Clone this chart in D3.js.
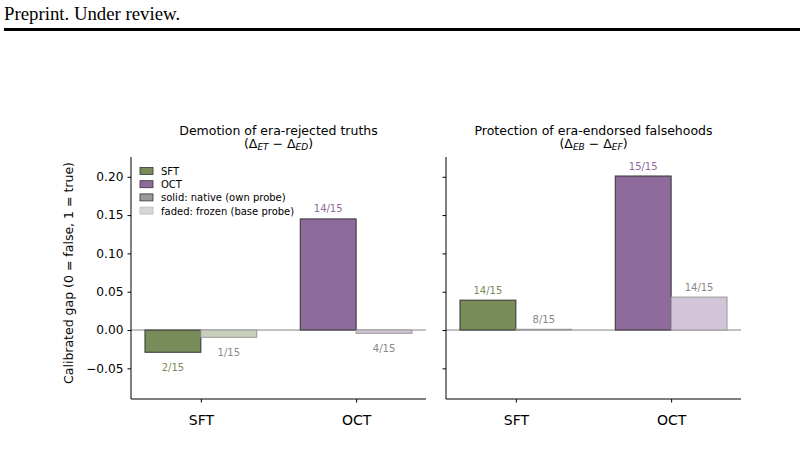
<!DOCTYPE html>
<html>
<head>
<meta charset="utf-8">
<script src="https://cdn.jsdelivr.net/npm/d3@7"></script>
<style>
  body { margin: 0; background: #fff; }
  svg { display: block; font-family: "DejaVu Sans", sans-serif; }
</style>
</head>
<body>
<svg width="804" height="460"></svg>
<script>
// chart data
const categories = ["SFT", "OCT"];
const panelTitles = ["Demotion of era-rejected truths", "Protection of era-endorsed falsehoods"];
const panelSubs = [["ET", "ED"], ["EB", "EF"]];
const nativeValues = [[-0.029, 0.145], [0.039, 0.201]];
const frozenValues = [[-0.0095, -0.0043], [0.001, 0.043]];
const nativeCounts = [["2/15", "14/15"], ["14/15", "15/15"]];
const frozenCounts = [["1/15", "4/15"], ["8/15", "14/15"]];
const yTicks = [-0.05, 0.0, 0.05, 0.10, 0.15, 0.20];
const legendLabels = ["SFT", "OCT", "solid: native (own probe)", "faded: frozen (base probe)"];

const solid = { SFT: "#788c5a", OCT: "#8f6b9b" };
const faded = { SFT: "#c9d1bd", OCT: "#d2c5da" };

const svg = d3.select("svg");

// page header like the paper
svg.append("text")
    .attr("x", 4).attr("y", 20)
    .style("font-family", "'Palatino Linotype', 'URW Palladio L', 'Liberation Serif', serif")
    .style("font-size", "18.8px")
    .text("Preprint. Under review.");
svg.append("rect")
    .attr("x", 4).attr("y", 28)
    .attr("width", 796).attr("height", 3)
    .attr("fill", "#000");

const y = d3.scaleLinear().domain([-0.09, 0.2258]).range([399, 157]);
const panelLeft = [131, 446];
const panelWidth = 295;
const barW = 0.36;

panelLeft.forEach((left, p) => {
    const x = d3.scaleLinear().domain([-0.45, 1.45]).range([left, left + panelWidth]);
    const g = svg.append("g");

    // zero line
    g.append("line")
        .attr("x1", left).attr("x2", left + panelWidth)
        .attr("y1", y(0)).attr("y2", y(0))
        .attr("stroke", "#888").attr("stroke-width", 1);

    categories.forEach((c, i) => {
        const bars = [
            { v: nativeValues[p][i], x0: i - barW, fill: solid[c], edge: "#333", lab: nativeCounts[p][i], lc: solid[c] },
            { v: frozenValues[p][i], x0: i, fill: faded[c], edge: "#999", lab: frozenCounts[p][i], lc: "#888" }
        ];
        bars.forEach(b => {
            const top = y(Math.max(0, b.v));
            const bot = y(Math.min(0, b.v));
            g.append("rect")
                .attr("x", x(b.x0)).attr("y", top)
                .attr("width", x(b.x0 + barW) - x(b.x0))
                .attr("height", Math.max(0.5, bot - top))
                .attr("fill", b.fill)
                .attr("stroke", b.edge).attr("stroke-width", 1);
            g.append("text")
                .attr("x", x(b.x0 + barW / 2))
                .attr("y", b.v >= 0 ? top - 6.5 : bot + 19)
                .attr("text-anchor", "middle")
                .attr("fill", b.lc)
                .style("font-size", "10px")
                .text(b.lab);
        });
    });

    // axes
    const yAxis = d3.axisLeft(y).tickValues(yTicks).tickSize(3.5).tickPadding(4)
        .tickFormat(p === 0 ? (d => d3.format(".2f")(d).replace("-", "\u2212")) : "");
    const ya = g.append("g").attr("transform", `translate(${left},0)`).call(yAxis);
    ya.select(".domain").attr("d", `M0,157V399`);

    const xAxis = d3.axisBottom(x).tickValues([0, 1]).tickFormat(d => categories[d])
        .tickSize(3.5).tickPadding(13);
    const xa = g.append("g").attr("transform", "translate(0,399)").call(xAxis);
    xa.select(".domain").attr("d", `M${left},0H${left + panelWidth}`);

    [ya, xa].forEach(a => {
        a.select(".domain").attr("stroke", "#000").attr("stroke-width", 1);
        a.selectAll(".tick line").attr("stroke", "#000");
        a.selectAll(".tick text").attr("fill", "#000")
            .style("font-family", "'DejaVu Sans', sans-serif");
    });
    ya.selectAll(".tick text").style("font-size", "12.2px");
    xa.selectAll(".tick text").style("font-size", "14px");

    // titles
    const cx = left + panelWidth / 2;
    g.append("text")
        .attr("x", cx).attr("y", 134.5)
        .attr("text-anchor", "middle")
        .style("font-size", "12.5px")
        .text(panelTitles[p]);
    const sub = g.append("text")
        .attr("x", cx).attr("y", 148)
        .attr("text-anchor", "middle")
        .style("font-size", "12.5px");
    sub.append("tspan").text("(\u0394");
    sub.append("tspan").attr("dy", 2).style("font-size", "9px").style("font-style", "italic").text(panelSubs[p][0]);
    sub.append("tspan").attr("dy", -2).text(" \u2212 \u0394");
    sub.append("tspan").attr("dy", 2).style("font-size", "9px").style("font-style", "italic").text(panelSubs[p][1]);
    sub.append("tspan").attr("dy", -2).text(")");
});

// y label
svg.append("text")
    .attr("transform", "translate(73,273) rotate(-90)")
    .attr("text-anchor", "middle")
    .style("font-size", "12.5px")
    .text("Calibrated gap (0 = false, 1 = true)");

// legend
const legendFill = [solid.SFT, solid.OCT, "#999", "#d6d6d6"];
const legendEdge = ["#333", "#333", "#333", "#bbb"];
const lg = svg.append("g").attr("transform", "translate(140,167.5)");
legendLabels.forEach((l, i) => {
    lg.append("rect")
        .attr("x", 0).attr("y", i * 13.2)
        .attr("width", 13).attr("height", 7)
        .attr("fill", legendFill[i])
        .attr("stroke", legendEdge[i]).attr("stroke-width", 0.8);
    lg.append("text")
        .attr("x", 21).attr("y", i * 13.2 + 7.5)
        .style("font-size", "10px")
        .text(l);
});
</script>
</body>
</html>
